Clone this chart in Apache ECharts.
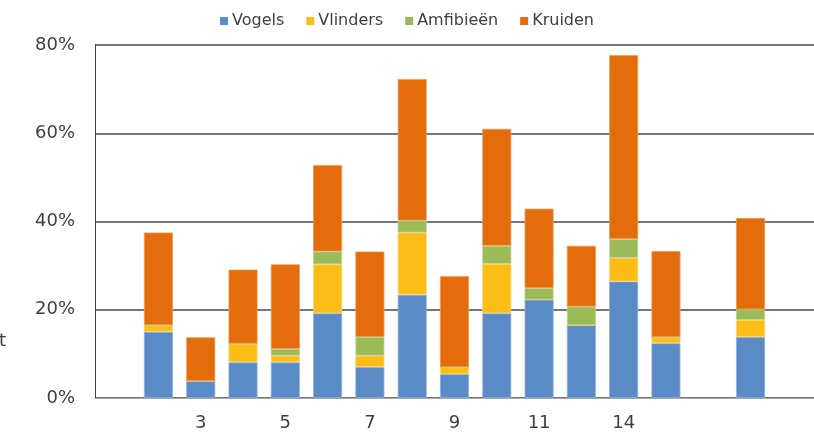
<!DOCTYPE html>
<html>
<head>
<meta charset="utf-8">
<script src="https://cdn.jsdelivr.net/npm/echarts@6/dist/echarts.min.js"></script>
<style>
html,body{margin:0;padding:0;background:#fff;}
#chart{width:814px;height:434px;}
</style>
</head>
<body>
<div id="chart"></div>
<script>
// Category labels (every other label is shown on the axis)
const categories = ["", "2", "3", "4", "5", "6", "7", "8", "9", "10", "11", "13", "14", "15", "", "", ""];
// Values in percent
const vogels    = [null, 15.0, 3.9, 8.1, 8.1, 19.2, 7.0, 23.4, 5.4, 19.2, 22.3, 16.5, 26.4, 12.4, null, 13.8, null];
const vlinders  = [null, 1.5, 0, 4.2, 1.5, 11.1, 2.6, 14.1, 1.6, 11.2, 0, 0, 5.4, 1.4, null, 3.9, null];
const amfibieen = [null, 0, 0, 0, 1.5, 2.9, 4.2, 2.7, 0, 4.1, 2.6, 4.2, 4.2, 0, null, 2.4, null];
const kruiden   = [null, 21.0, 9.85, 16.8, 19.2, 19.6, 19.4, 32.1, 20.6, 26.5, 18.0, 13.8, 41.7, 19.5, null, 20.7, null];
const yTicks = [0, 20, 40, 60, 80];

const seriesDefs = [
  {name: "Vogels", data: vogels, color: "#5A8BC7", border: "#8DB0DA"},
  {name: "Vlinders", data: vlinders, color: "#FCBE16", border: "#FDD466"},
  {name: "Amfibieën", data: amfibieen, color: "#9BBB59", border: "#BCD293"},
  {name: "Kruiden", data: kruiden, color: "#E46C0A", border: "#EE9A57"}
];

const chart = echarts.init(document.getElementById('chart'), null, {renderer: 'canvas'});
const font = "'DejaVu Sans', Verdana, sans-serif";
chart.setOption({
  animation: false,
  backgroundColor: '#ffffff',
  textStyle: {fontFamily: font},
  legend: {
    top: 8,
    left: 'center',
    itemWidth: 8,
    itemHeight: 8,
    itemGap: 22,
    icon: 'rect',
    itemStyle: {borderWidth: 0},
    textStyle: {fontFamily: font, fontSize: 16, color: '#404040', padding: [0, 0, 0, -1]},
    data: seriesDefs.map(s => s.name)
  },
  grid: {left: 95, top: 45, width: 729, height: 353, containLabel: false},
  xAxis: {
    type: 'category',
    data: categories,
    axisLine: {show: true, lineStyle: {color: '#A6A6A6', width: 1}},
    axisTick: {show: false},
    axisLabel: {interval: 1, margin: 16, fontSize: 18, color: '#404040', fontFamily: font},
    splitLine: {show: false}
  },
  yAxis: {
    type: 'value',
    min: yTicks[0],
    max: yTicks[yTicks.length - 1],
    interval: 20,
    axisLine: {show: true, lineStyle: {color: '#404040', width: 1}},
    axisTick: {show: false},
    axisLabel: {margin: 20, fontSize: 18, color: '#404040', fontFamily: font, formatter: v => v + '%'},
    splitLine: {show: true, lineStyle: {color: '#4A4A4A', width: 1.5}}
  },
  graphic: [{
    type: 'text', left: -1, top: 332,
    style: {text: 't', fontSize: 18, fontFamily: font, fill: '#404040'}
  }],
  series: seriesDefs.map(s => ({
    name: s.name,
    type: 'bar',
    stack: 'total',
    barWidth: 29,
    data: s.data,
    itemStyle: {color: s.color, borderColor: s.border, borderWidth: 0.8},
    emphasis: {disabled: true}
  }))
});
</script>
</body>
</html>
